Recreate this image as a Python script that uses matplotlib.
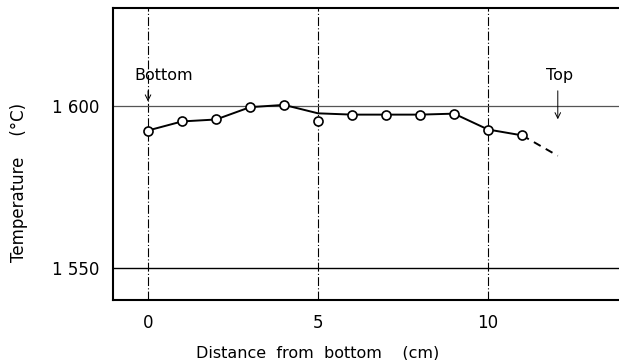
import numpy as np
import matplotlib
matplotlib.use('Agg')
import matplotlib.pyplot as plt

# Valeurs
distance = [0, 1, 2, 3, 4, 5, 6, 7, 8, 9, 10, 11]
temperature = [1592.4, 1595.2, 1595.8, 1599.6, 1600.3, 1595.2,
               1597.3, 1597.3, 1597.3, 1597.6, 1592.7, 1590.9]
# Courbe tracée à la main (ne passe pas par le point à 5 cm)
curve_x = [0, 1, 2, 3, 4, 5, 6, 7, 8, 9, 10, 11]
curve_y = [1592.4, 1595.2, 1595.8, 1599.6, 1600.3, 1597.7,
           1597.3, 1597.3, 1597.3, 1597.6, 1592.7, 1590.9]
extrap_x = [11, 12.05]
extrap_y = [1590.9, 1584.6]
x_ticks = [0, 5, 10]
y_ticks = [1550, 1600]
y_labels = ['1 550', '1 600']

plt.rcParams['font.family'] = ['DejaVu Sans']
fig = plt.figure(figsize=(6.19, 3.6), dpi=100)
ax = fig.add_axes([113 / 619, 60 / 360, 506 / 619, 292 / 360])

for xv in x_ticks:
    ax.axvline(xv, color='black', lw=0.8, ls='-.', dashes=(8, 2, 1, 2), zorder=1)
ax.axhline(1600, color='#555555', lw=0.9, zorder=1)
ax.axhline(1550, color='black', lw=1.0, zorder=1)

ax.plot(curve_x, curve_y, color='black', lw=1.4, zorder=2)
ax.plot(extrap_x, extrap_y, color='black', lw=1.4, ls=(0, (4, 3)), zorder=2)
ax.plot(distance, temperature, 'o', ms=6.5, mfc='white', mec='black', mew=1.2, zorder=3)

ax.text(0.45, 1609.5, 'Bottom', ha='center', va='center', fontsize=11.5)
ax.annotate('', xy=(0, 1600.5), xytext=(0, 1605.5),
            arrowprops=dict(arrowstyle='->', lw=0.7, color='black'))
ax.text(12.1, 1609.5, 'Top', ha='center', va='center', fontsize=11.5)
ax.annotate('', xy=(12.05, 1595.0), xytext=(12.05, 1605.5),
            arrowprops=dict(arrowstyle='->', lw=0.7, color='black'))

ax.set_xlim(-1.03, 13.85)
ax.set_ylim(1540.1, 1630.2)
ax.set_xticks(x_ticks)
ax.set_yticks(y_ticks)
ax.set_yticklabels(y_labels)
ax.tick_params(length=0, labelsize=12, pad=10)
ax.spines['right'].set_visible(False)
for s in ['left', 'top', 'bottom']:
    ax.spines[s].set_linewidth(1.5)
ax.set_xlabel('Distance  from  bottom    (cm)', fontsize=11.5)
ax.xaxis.set_label_coords(0.405, -0.155)
ax.set_ylabel('Temperature    (°C)', fontsize=12)
ax.yaxis.set_label_coords(-0.168, 0.404)

fig.savefig('out.png', dpi=100)
